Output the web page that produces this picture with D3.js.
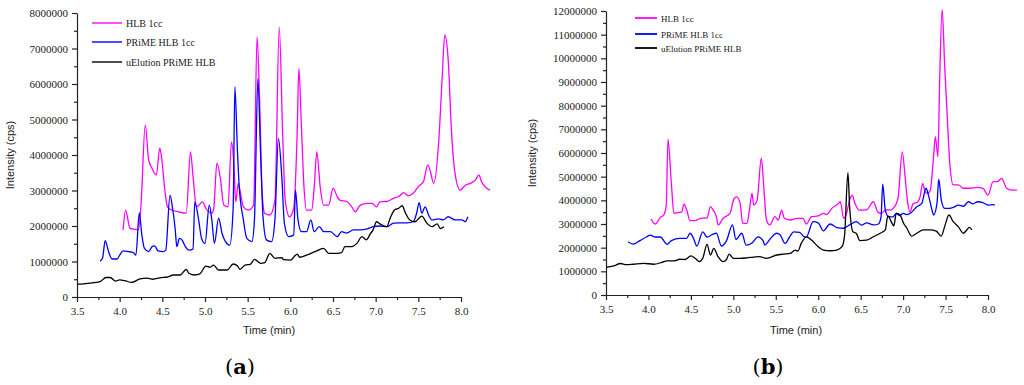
<!DOCTYPE html>
<html>
<head>
<meta charset="utf-8">
<script src="https://cdn.jsdelivr.net/npm/d3@7"></script>
<style>
  body { margin: 0; background: #fff; }
  .tick text { font-family: "Liberation Serif", "Times New Roman", serif; font-size: 11px; fill: #222; }
  .domain, .tick line { stroke: #222; stroke-width: 1.2; }
</style>
</head>
<body>
<div id="chart"></div>
<script>
// values in millions of cps, time in minutes
let seriesNames = ["HLB 1cc", "PRiME HLB 1cc", "uElution PRiME HLB"];
let seriesColors = ["#ff00ff", "#0000ff", "#000000"];

let xTicks = [3.5, 4.0, 4.5, 5.0, 5.5, 6.0, 6.5, 7.0, 7.5, 8.0];
let yTicksA = [0, 1, 2, 3, 4, 5, 6, 7, 8];
let yTicksB = [0, 1, 2, 3, 4, 5, 6, 7, 8, 9, 10, 11, 12];

// panel (a)
let hlbA = [[4.04,1.89],[4.07,2.45],[4.12,1.94],[4.16,1.91],[4.22,1.90],[4.25,2.6],[4.30,4.85],[4.34,3.86],[4.38,3.62],[4.43,3.44],[4.47,4.19],[4.49,3.95],[4.53,3.0],[4.56,2.54],[4.61,2.45],[4.69,2.40],[4.78,2.36],[4.83,4.09],[4.86,3.39],[4.90,2.54],[4.93,2.59],[4.97,2.68],[5.01,2.50],[5.08,2.36],[5.10,2.45],[5.14,3.77],[5.18,3.34],[5.22,2.59],[5.27,2.54],[5.31,4.37],[5.34,3.67],[5.36,2.68],[5.39,3.2],[5.41,3.0],[5.45,2.54],[5.51,2.45],[5.57,2.59],[5.61,7.33],[5.64,5.55],[5.67,2.92],[5.70,2.36],[5.76,2.31],[5.82,2.73],[5.87,7.6],[5.91,4.61],[5.94,2.73],[5.99,2.26],[6.04,2.5],[6.08,4.61],[6.10,6.44],[6.13,4.80],[6.16,3.1],[6.19,2.45],[6.25,2.45],[6.28,3.1],[6.31,4.09],[6.35,3.1],[6.39,2.59],[6.45,2.59],[6.50,3.06],[6.55,2.83],[6.58,2.73],[6.66,2.69],[6.72,2.54],[6.76,2.40],[6.82,2.59],[6.90,2.64],[6.96,2.64],[7.01,2.54],[7.05,2.68],[7.13,2.69],[7.21,2.78],[7.27,2.83],[7.33,2.94],[7.38,2.85],[7.44,2.92],[7.50,3.11],[7.56,3.25],[7.61,3.72],[7.64,3.55],[7.68,3.2],[7.74,4.42],[7.78,6.21],[7.81,7.38],[7.85,6.68],[7.89,4.61],[7.93,3.48],[7.99,3.01],[8.05,3.15],[8.11,3.2],[8.17,3.30],[8.21,3.44],[8.24,3.25],[8.28,3.11],[8.34,3.01]];

let primeA = [[3.77,1.01],[3.80,1.1],[3.83,1.59],[3.87,1.28],[3.91,1.07],[3.97,1.07],[4.00,1.18],[4.04,1.30],[4.10,1.28],[4.16,1.25],[4.19,1.18],[4.23,2.37],[4.26,1.75],[4.29,1.37],[4.34,1.28],[4.38,1.42],[4.41,1.44],[4.45,1.30],[4.51,1.28],[4.54,1.32],[4.59,2.87],[4.62,2.50],[4.65,1.93],[4.67,1.42],[4.70,1.65],[4.73,1.61],[4.77,1.42],[4.81,1.32],[4.86,1.35],[4.88,2.68],[4.92,2.26],[4.96,1.65],[5.00,1.51],[5.05,2.59],[5.08,2.17],[5.11,1.51],[5.16,2.22],[5.20,1.79],[5.24,1.56],[5.29,1.46],[5.33,2.5],[5.35,5.92],[5.38,4.14],[5.40,3.15],[5.45,2.17],[5.49,1.65],[5.55,1.56],[5.58,2.2],[5.62,6.16],[5.65,4.14],[5.68,2.26],[5.72,1.61],[5.78,1.56],[5.82,2.2],[5.86,4.47],[5.90,3.39],[5.93,2.08],[5.98,1.70],[6.04,1.75],[6.06,3.01],[6.09,2.17],[6.13,1.84],[6.19,1.84],[6.24,2.17],[6.28,1.84],[6.34,1.98],[6.39,1.84],[6.47,1.84],[6.55,1.70],[6.60,1.84],[6.66,1.80],[6.74,1.89],[6.82,1.89],[6.90,1.92],[6.97,1.98],[7.05,2.00],[7.13,1.98],[7.21,2.08],[7.29,2.09],[7.37,2.09],[7.44,2.12],[7.48,2.36],[7.51,2.66],[7.54,2.36],[7.58,2.54],[7.62,2.31],[7.66,2.17],[7.74,2.20],[7.79,2.17],[7.85,2.26],[7.93,2.17],[8.01,2.17],[8.05,2.12],[8.08,2.26]];

let elutA = [[3.50,0.36],[3.58,0.37],[3.65,0.39],[3.72,0.41],[3.77,0.43],[3.84,0.55],[3.89,0.55],[3.95,0.45],[4.00,0.48],[4.06,0.46],[4.14,0.41],[4.24,0.51],[4.32,0.53],[4.39,0.50],[4.47,0.54],[4.57,0.57],[4.63,0.62],[4.71,0.62],[4.78,0.78],[4.81,0.67],[4.88,0.62],[4.94,0.65],[5.01,0.87],[5.06,0.84],[5.10,0.90],[5.16,0.76],[5.26,0.76],[5.33,0.93],[5.38,0.88],[5.41,0.78],[5.47,0.90],[5.53,0.92],[5.58,1.06],[5.65,0.95],[5.70,0.97],[5.76,1.23],[5.82,1.09],[5.90,1.11],[5.92,1.05],[6.00,1.04],[6.08,1.21],[6.11,1.12],[6.19,1.18],[6.29,1.28],[6.39,1.37],[6.45,1.23],[6.55,1.23],[6.60,1.25],[6.64,1.42],[6.72,1.42],[6.78,1.51],[6.84,1.70],[6.89,1.61],[6.94,1.79],[6.97,1.89],[7.01,2.12],[7.05,2.06],[7.13,1.98],[7.17,2.22],[7.22,2.45],[7.27,2.50],[7.31,2.57],[7.35,2.36],[7.40,2.17],[7.46,2.12],[7.54,2.28],[7.60,2.08],[7.66,1.98],[7.72,2.06],[7.76,1.93],[7.80,1.98]];

// panel (b)
let hlbB = [[4.03,3.21],[4.08,3.0],[4.14,3.28],[4.18,3.38],[4.21,3.8],[4.23,6.58],[4.27,4.72],[4.30,3.45],[4.35,3.48],[4.39,3.50],[4.42,3.84],[4.45,3.6],[4.49,3.14],[4.55,3.14],[4.61,3.24],[4.69,3.26],[4.73,3.73],[4.76,3.6],[4.80,3.31],[4.82,2.96],[4.88,3.24],[4.96,3.45],[5.01,4.09],[5.04,4.15],[5.08,3.87],[5.11,3.03],[5.16,3.03],[5.19,3.59],[5.22,4.30],[5.24,3.80],[5.28,4.0],[5.33,5.78],[5.36,4.5],[5.39,3.17],[5.43,2.96],[5.49,3.31],[5.53,3.17],[5.57,3.59],[5.60,3.24],[5.63,3.2],[5.67,3.17],[5.75,3.24],[5.82,3.24],[5.86,3.0],[5.92,3.31],[6.00,3.34],[6.06,3.45],[6.10,3.4],[6.16,3.66],[6.24,3.87],[6.26,3.94],[6.30,3.24],[6.33,3.4],[6.37,4.01],[6.40,4.22],[6.43,3.9],[6.48,3.59],[6.57,3.6],[6.65,3.94],[6.70,3.52],[6.74,3.45],[6.80,3.6],[6.85,3.59],[6.90,3.73],[6.94,4.09],[6.99,6.05],[7.02,5.14],[7.05,4.01],[7.08,3.52],[7.12,3.87],[7.16,3.9],[7.20,4.15],[7.23,4.72],[7.26,4.36],[7.29,4.3],[7.32,4.43],[7.36,5.9],[7.38,6.69],[7.41,5.84],[7.43,9.0],[7.46,12.07],[7.49,9.65],[7.53,6.83],[7.55,5.56],[7.59,4.65],[7.65,4.65],[7.71,4.51],[7.79,4.51],[7.87,4.55],[7.94,4.51],[8.00,4.22],[8.06,4.79],[8.11,4.79],[8.16,4.93],[8.22,4.51],[8.28,4.43],[8.34,4.43]];

let primeB = [[3.76,2.25],[3.82,2.15],[3.90,2.3],[3.98,2.46],[4.02,2.53],[4.08,2.45],[4.14,2.45],[4.22,2.14],[4.27,2.3],[4.37,2.39],[4.45,2.39],[4.49,2.61],[4.53,2.4],[4.57,2.07],[4.64,2.67],[4.69,2.45],[4.75,2.55],[4.80,2.61],[4.86,2.07],[4.92,2.3],[4.99,2.96],[5.03,2.35],[5.10,2.61],[5.15,2.11],[5.22,2.2],[5.29,2.46],[5.35,2.3],[5.37,2.11],[5.44,2.4],[5.51,2.61],[5.55,2.55],[5.61,2.18],[5.67,2.5],[5.71,2.67],[5.78,2.65],[5.84,2.46],[5.86,2.46],[5.94,3.10],[6.00,3.05],[6.06,2.71],[6.14,3.0],[6.22,2.85],[6.30,2.82],[6.37,2.96],[6.45,3.10],[6.51,2.95],[6.57,3.05],[6.65,2.96],[6.71,3.0],[6.74,3.3],[6.76,4.68],[6.79,3.59],[6.83,3.31],[6.88,3.3],[6.92,3.45],[6.96,3.35],[7.00,3.45],[7.04,3.4],[7.10,3.5],[7.16,3.73],[7.22,3.87],[7.27,4.51],[7.30,4.2],[7.34,3.59],[7.36,3.38],[7.40,3.9],[7.42,4.89],[7.45,4.01],[7.49,3.66],[7.55,3.66],[7.59,3.7],[7.65,3.80],[7.71,3.75],[7.77,3.94],[7.82,3.85],[7.88,3.94],[7.94,3.9],[8.00,3.80],[8.06,3.82],[8.08,3.80]];

let elutB = [[3.50,1.17],[3.55,1.2],[3.59,1.23],[3.67,1.33],[3.74,1.28],[3.82,1.3],[3.94,1.34],[4.06,1.3],[4.16,1.38],[4.22,1.44],[4.30,1.44],[4.37,1.51],[4.43,1.5],[4.50,1.65],[4.55,1.55],[4.60,1.41],[4.64,1.55],[4.69,2.14],[4.73,1.69],[4.77,1.97],[4.82,1.62],[4.88,1.41],[4.92,1.5],[4.95,1.73],[5.00,1.55],[5.08,1.55],[5.16,1.57],[5.24,1.6],[5.31,1.62],[5.39,1.55],[5.51,1.69],[5.59,1.73],[5.67,1.76],[5.73,1.90],[5.76,1.85],[5.80,2.18],[5.86,2.46],[5.92,2.32],[6.00,2.04],[6.06,1.90],[6.14,1.87],[6.22,1.9],[6.28,2.04],[6.31,2.5],[6.35,5.17],[6.37,3.73],[6.41,2.67],[6.45,2.6],[6.49,2.3],[6.57,2.32],[6.65,2.46],[6.73,2.61],[6.79,2.75],[6.82,3.34],[6.86,3.1],[6.89,2.92],[6.92,3.45],[6.96,3.4],[7.01,3.0],[7.04,2.85],[7.10,2.49],[7.16,2.61],[7.24,2.75],[7.32,2.75],[7.39,2.7],[7.45,2.49],[7.49,2.9],[7.54,3.38],[7.59,3.1],[7.65,2.89],[7.71,2.61],[7.75,2.75],[7.78,2.86],[7.81,2.75]];

let w = 1024,
    h = 385;

let svg = d3.select("#chart")
            .append("svg")
            .attr("width", w)
            .attr("height", h)
            .style("background", "#fff");

let panels = [
  { series: [hlbA, primeA, elutA], yTicks: yTicksA, x0: 77, x1: 461, y0: 297, y1: 13,
    yTitleX: 10, label: "a", labelX: 240, timeX: 269,
    legend: { x: 92, len: 30, ys: [23, 42, 62], width: 1.4, font: 10 } },
  { series: [hlbB, primeB, elutB], yTicks: yTicksB, x0: 606, x1: 988, y0: 295, y1: 11,
    yTitleX: 532, label: "b", labelX: 768, timeX: 796,
    legend: { x: 635, len: 22, ys: [18, 34, 48], width: 1.8, font: 9 } }
];

panels.forEach(p => {
  let x = d3.scaleLinear().domain([3.5, 8.0]).range([p.x0, p.x1]);
  let yMax = d3.max(p.yTicks);
  let y = d3.scaleLinear().domain([0, yMax * 1e6]).range([p.y0, p.y1]);

  let g = svg.append("g");

  // minor ticks first so the major axis draws on top
  let xMinor = xTicks.slice(0, -1).map(d => d + 0.25);
  g.append("g")
    .attr("transform", "translate(0," + p.y0 + ")")
    .call(d3.axisBottom(x).tickValues(xMinor).tickSize(3).tickFormat(""))
    .call(a => a.select(".domain").remove());

  let yMinor = p.yTicks.slice(0, -1).map(d => (d + 0.5) * 1e6);
  g.append("g")
    .attr("transform", "translate(" + p.x0 + ",0)")
    .call(d3.axisLeft(y).tickValues(yMinor).tickSize(3).tickFormat(""))
    .call(a => a.select(".domain").remove());

  g.append("g")
    .attr("transform", "translate(0," + p.y0 + ")")
    .call(d3.axisBottom(x).tickValues(xTicks).tickSize(5).tickSizeOuter(0).tickPadding(5).tickFormat(d3.format(".1f")));

  g.append("g")
    .attr("transform", "translate(" + p.x0 + ",0)")
    .call(d3.axisLeft(y).tickValues(p.yTicks.map(d => d * 1e6)).tickSize(5).tickSizeOuter(0).tickPadding(4).tickFormat(d3.format("d")));

  let line = d3.line()
               .x(d => x(d[0]))
               .y(d => y(d[1] * 1e6))
               .curve(d3.curveMonotoneX);

  p.series.forEach((s, i) => {
    g.append("path")
      .datum(s)
      .attr("d", line)
      .attr("fill", "none")
      .attr("stroke", seriesColors[i])
      .attr("stroke-width", 1.3)
      .attr("stroke-linejoin", "round");
  });

  // legend
  seriesNames.forEach((name, i) => {
    let ly = p.legend.ys[i];
    g.append("line")
      .attr("x1", p.legend.x).attr("x2", p.legend.x + p.legend.len)
      .attr("y1", ly).attr("y2", ly)
      .attr("stroke", seriesColors[i])
      .attr("stroke-width", p.legend.width);
    g.append("text")
      .attr("x", p.legend.x + p.legend.len + 4)
      .attr("y", ly + 3.5)
      .style("font-family", "'Liberation Serif', serif")
      .style("font-size", p.legend.font + "px")
      .style("fill", "#222")
      .text(name);
  });

  // axis titles
  g.append("text")
    .attr("transform", "translate(" + (p.yTitleX + 4) + "," + ((p.y0 + p.y1) / 2) + ") rotate(-90)")
    .attr("text-anchor", "middle")
    .style("font-family", "'Liberation Sans', Arial, sans-serif")
    .style("font-size", "11px")
    .style("fill", "#222")
    .text("Intensity (cps)");

  g.append("text")
    .attr("x", p.timeX)
    .attr("y", 334)
    .attr("text-anchor", "middle")
    .style("font-family", "'Liberation Sans', Arial, sans-serif")
    .style("font-size", "11px")
    .style("fill", "#222")
    .text("Time (min)");

  let lab = g.append("text")
    .attr("x", p.labelX)
    .attr("y", 374)
    .attr("text-anchor", "middle")
    .style("font-family", "'DejaVu Serif', 'Liberation Serif', serif")
    .style("font-size", "21px")
    .style("fill", "#000");
  lab.append("tspan").text("(");
  lab.append("tspan").style("font-weight", "bold").text(p.label);
  lab.append("tspan").text(")");
});
</script>
</body>
</html>
